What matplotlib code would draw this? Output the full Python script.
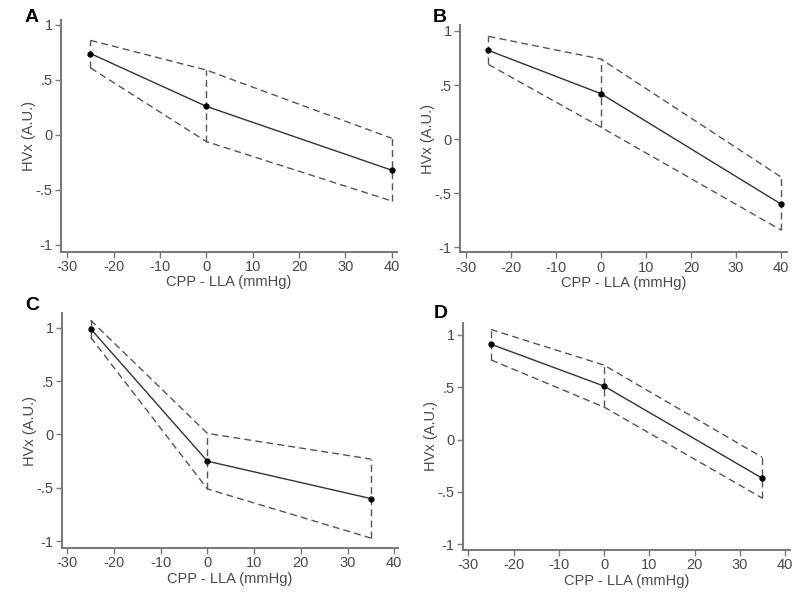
import matplotlib.pyplot as plt

# CPP - LLA positions for each panel
x_ab = [-25, 0, 40]
x_cd = [-25, 0, 35]

# HVx estimates with upper / lower confidence limits
a_mid = [0.74, 0.26, -0.32]
a_hi = [0.86, 0.59, -0.03]
a_lo = [0.61, -0.06, -0.60]

b_mid = [0.82, 0.42, -0.60]
b_hi = [0.95, 0.74, -0.35]
b_lo = [0.69, 0.11, -0.84]

c_mid = [0.99, -0.25, -0.60]
c_hi = [1.07, 0.01, -0.23]
c_lo = [0.91, -0.51, -0.97]

d_mid = [0.91, 0.51, -0.37]
d_hi = [1.05, 0.71, -0.17]
d_lo = [0.76, 0.31, -0.56]

panel_names = ['A', 'B', 'C', 'D']
xticks = [-30, -20, -10, 0, 10, 20, 30, 40]
yticks = [-1, -0.5, 0, 0.5, 1]
ytick_labels = ['-1', '-.5', '0', '.5', '1']

plt.rcParams['font.family'] = ['Liberation Sans', 'DejaVu Sans']
plt.rcParams['axes.unicode_minus'] = False

W, H = 800, 603
fig = plt.figure(figsize=(W / 100, H / 100), dpi=100)
fig.patch.set_facecolor('white')

# pixel boxes: left, right, top, bottom  and axis limits
boxes = [
    (61, 397, 20, 251.7, (-31.36, 41.14), (-1.061, 1.045), (32, 17)),
    (460, 787, 25, 252.3, (-31.33, 41.33), (-1.046, 1.055), (440, 17)),
    (62, 398, 313.3, 548, (-31.13, 40.8), (-1.063, 1.135), (32, 306)),
    (463, 790, 322.7, 550, (-31.17, 41.1), (-1.054, 1.115), (441, 313)),
]
series = [
    (x_ab, a_mid, a_hi, a_lo),
    (x_ab, b_mid, b_hi, b_lo),
    (x_cd, c_mid, c_hi, c_lo),
    (x_cd, d_mid, d_hi, d_lo),
]

text_col = '#4a4a4a'
axis_col = '#7a7a7a'
dash_col = '#555555'

for name, box, (xs, mid, hi, lo) in zip(panel_names, boxes, series):
    l, r, t, b, xlim, ylim, lab = box
    ax = fig.add_axes([l / W, 1 - b / H, (r - l) / W, (b - t) / H])
    ax.set_xlim(*xlim)
    ax.set_ylim(*ylim)

    ax.plot(xs, hi, ls=(0, (5, 3)), color=dash_col, lw=1)
    ax.plot(xs, lo, ls=(0, (5, 3)), color=dash_col, lw=1)
    ax.vlines(xs, lo, hi, linestyles=(0, (5, 3)), colors=dash_col, lw=1)
    ax.plot(xs, mid, color='#333333', lw=1, marker='o', ms=3.5,
            mfc='black', mec='black')

    for s in ['top', 'right']:
        ax.spines[s].set_visible(False)
    for s in ['left', 'bottom']:
        ax.spines[s].set_color(axis_col)
        ax.spines[s].set_linewidth(1.5)

    ax.set_xticks(xticks)
    ax.set_yticks(yticks)
    ax.set_yticklabels(ytick_labels)
    ax.tick_params(length=4, width=1, color=axis_col, labelcolor=text_col,
                   labelsize=10.5, pad=2)
    ax.set_xlabel('CPP - LLA (mmHg)', fontsize=10.5, color=text_col, labelpad=1)
    ax.set_ylabel('HVx (A.U.)', fontsize=10.5, color=text_col, labelpad=0)

    fig.text(lab[0] / W, 1 - lab[1] / H, name, fontsize=14, fontweight='bold',
             ha='center', va='center', color='black')

fig.savefig('out.png', dpi=100)
